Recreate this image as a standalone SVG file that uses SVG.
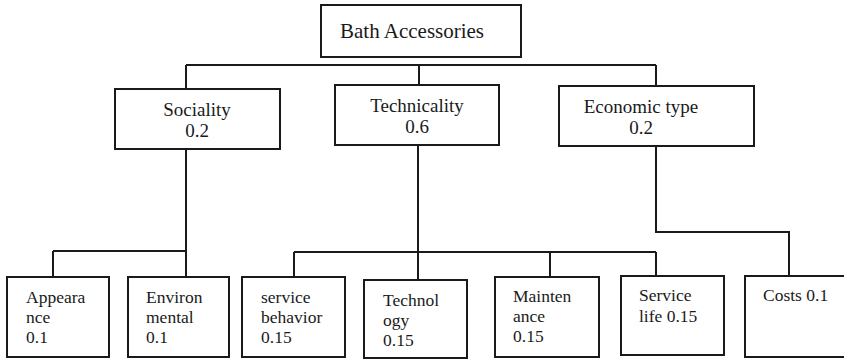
<svg xmlns="http://www.w3.org/2000/svg" width="844" height="359" viewBox="0 0 844 359">
  <style>
    .box { fill: #ffffff; stroke: #1a1a1a; stroke-width: 2; }
    .wire { fill: none; stroke: #1a1a1a; stroke-width: 2; }
    text { fill: #1a1a1a; }
    .t0 { font-size: 21px; }
    .t1 { font-size: 19px; text-anchor: middle; }
    .t2 { font-size: 17.5px; }
  </style>
  <rect width="844" height="359" fill="#ffffff"/>

  <!-- connectors -->
  <g id="connectors" class="wire">
    <path d="M186,65 H656 M186,65 V89 M419,65 V85 M656,65 V86"/>
    <path d="M186,149 V277 M53,251 H186 M53,251 V277"/>
    <path d="M418,145 V280 M294,252 H656 M294,252 V277 M550,252 V277 M656,252 V276"/>
    <path d="M656,146 V232 H789 V276"/>
  </g>

  <g font-family="'Liberation Serif', 'Times New Roman', Tinos, 'DejaVu Serif', serif">
  <g id="root">
    <rect class="box" x="321" y="5" width="200" height="52"/>
    <text class="t0" x="340" y="38">Bath Accessories</text>
  </g>

  <g id="sociality">
    <rect class="box" x="115" y="89" width="165" height="60"/>
    <text class="t1" x="197" y="116">Sociality</text>
    <text class="t1" x="197" y="137">0.2</text>
  </g>
  <g id="technicality">
    <rect class="box" x="335" y="85" width="164" height="60"/>
    <text class="t1" x="417" y="112">Technicality</text>
    <text class="t1" x="417" y="133">0.6</text>
  </g>
  <g id="economic">
    <rect class="box" x="559" y="86" width="195" height="60"/>
    <text class="t1" x="641" y="113">Economic type</text>
    <text class="t1" x="641" y="134">0.2</text>
  </g>

  <g id="appearance">
    <rect class="box" x="7" y="277" width="102" height="80"/>
    <text class="t2" x="26" y="303">Appeara</text>
    <text class="t2" x="26" y="323">nce</text>
    <text class="t2" x="26" y="343">0.1</text>
  </g>
  <g id="environmental">
    <rect class="box" x="128" y="277" width="101" height="80"/>
    <text class="t2" x="146" y="303">Environ</text>
    <text class="t2" x="146" y="323">mental</text>
    <text class="t2" x="146" y="343">0.1</text>
  </g>
  <g id="service-behavior">
    <rect class="box" x="242" y="277" width="103" height="80"/>
    <text class="t2" x="261" y="303">service</text>
    <text class="t2" x="261" y="323">behavior</text>
    <text class="t2" x="261" y="343">0.15</text>
  </g>
  <g id="technology">
    <rect class="box" x="364" y="280" width="103" height="78"/>
    <text class="t2" x="383" y="306">Technol</text>
    <text class="t2" x="383" y="326">ogy</text>
    <text class="t2" x="383" y="346">0.15</text>
  </g>
  <g id="maintenance">
    <rect class="box" x="495" y="277" width="104" height="80"/>
    <text class="t2" x="513" y="302">Mainten</text>
    <text class="t2" x="513" y="322">ance</text>
    <text class="t2" x="513" y="342">0.15</text>
  </g>
  <g id="service-life">
    <rect class="box" x="621" y="276" width="103" height="79"/>
    <text class="t2" x="639" y="301">Service</text>
    <text class="t2" x="639" y="322">life 0.15</text>
  </g>
  <g id="costs">
    <rect class="box" x="745" y="276" width="110" height="81"/>
    <text class="t2" x="763" y="301">Costs 0.1</text>
  </g>
  </g>
</svg>
